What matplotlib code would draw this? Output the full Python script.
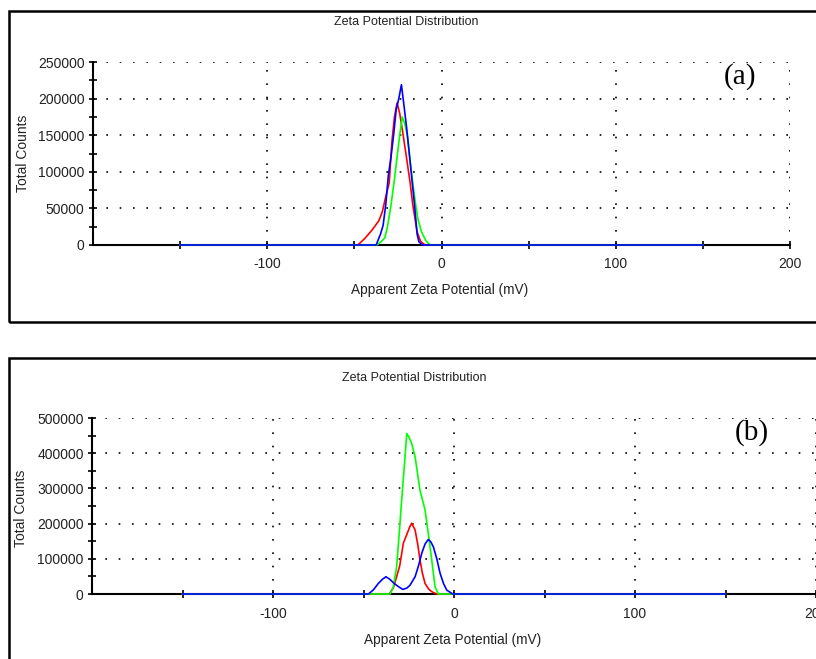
#%% Dependencies
import matplotlib.pyplot as plt
from matplotlib.patches import Rectangle
from matplotlib.ticker import MultipleLocator, FixedLocator
import numpy as np

#%% Data: apparent zeta potential (mV) vs total counts, three runs per sample
W, H = 816, 659

# sample (a)
a_red_mv = [-150, -48, -44, -40, -36, -34, -32, -30, -28.5, -27, -25.5, -24, -22, -20, -18, -16.5, -14, -12, -9.5, 150]
a_red_ct = [0, 0, 9000, 20000, 33000, 45000, 66000, 85000, 140000, 175000, 194000, 180000, 150000, 118000, 85000, 55000, 18000, 5000, 0, 0]

a_green_mv = [-150, -37, -34, -32.5, -31, -29, -27, -25.5, -24, -22.5, -21, -19.5, -18, -16.5, -15, -13.5, -11.5, -9, -6.5, 150]
a_green_ct = [0, 0, 6000, 10000, 25000, 54000, 90000, 120000, 150000, 175000, 165000, 148000, 115000, 85000, 58000, 35000, 18000, 6000, 0, 0]

a_blue_mv = [-150, -37.5, -35, -33.5, -32, -30.5, -29, -27.5, -26, -24.5, -23, -21.5, -20, -18.5, -17, -15.5, -14, -13, -11, 150]
a_blue_ct = [0, 0, 15000, 27000, 55000, 95000, 120000, 150000, 185000, 200000, 219000, 190000, 160000, 125000, 90000, 55000, 15000, 4500, 0, 0]

# sample (b)
b_red_mv = [-150, -35.7, -33.5, -31.7, -30, -28, -26, -24.5, -23.4, -21.5, -20, -18.8, -17.5, -16, -14, -12.3, -9.6, 150]
b_red_ct = [0, 0, 18000, 49000, 80000, 144000, 170000, 190000, 201000, 182000, 140000, 97000, 60000, 30000, 14000, 6500, 0, 0]

b_green_mv = [-150, -35.4, -33.5, -31.7, -30.3, -28.9, -27.5, -26.1, -24.8, -23.4, -21.5, -18.8, -16, -14.2, -12.3, -10.5, -8.7, 150]
b_green_ct = [0, 0, 20000, 77600, 170000, 267000, 360000, 456000, 445000, 428000, 390000, 295000, 239000, 172000, 97000, 21000, 0, 0]

b_blue_mv = [-150, -47.3, -44.5, -41.8, -39.5, -37.6, -35.5, -33.5, -31, -28.3, -26, -24.3, -21.5, -19.5, -17.8, -16, -14.2, -12.8, -11.4, -9.5, -7.7, -5.8, -4, -0.7, 150]
b_blue_ct = [0, 0, 12000, 30000, 42000, 49000, 42000, 32000, 22000, 13000, 17000, 25000, 49000, 82000, 116000, 142000, 155000, 148000, 134000, 100000, 59000, 30000, 11000, 0, 0]

panels = [
    dict(label="(a)", rect=(93, 62, 790, 245), ymax=250000, ystep=50000,
         title_xy=(406, 22), xlabel_xy=(440, 290), ylabel_xy=(23, 153), tag_xy=(740, 77),
         frame=(9, 11, 830, 322),
         series=[(a_red_mv, a_red_ct, "#ff0000"), (a_green_mv, a_green_ct, "#00ff00"),
                 (a_blue_mv, a_blue_ct, "#0000ff")]),
    dict(label="(b)", rect=(92, 418, 816, 594), ymax=500000, ystep=100000,
         title_xy=(414, 378), xlabel_xy=(453, 640), ylabel_xy=(21, 508), tag_xy=(752, 433),
         frame=(9, 358, 830, 680),
         series=[(b_red_mv, b_red_ct, "#ff0000"), (b_green_mv, b_green_ct, "#00ff00"),
                 (b_blue_mv, b_blue_ct, "#0000ff")]),
]

#%% Plotting
plt.rcParams["font.family"] = ["Liberation Sans", "DejaVu Sans"]
plt.rcParams["axes.unicode_minus"] = False
fig = plt.figure(figsize=(W / 100, H / 100), dpi=100)
fig.patch.set_facecolor("white")

for p in panels:
    x0, y0, x1, y1 = p["frame"]
    fig.patches.append(Rectangle((x0 / W, 1 - y1 / H), (x1 - x0) / W, (y1 - y0) / H,
                                 transform=fig.transFigure, fill=False,
                                 edgecolor="black", linewidth=1.8))

    l, t, r, b = p["rect"]
    ax = fig.add_axes([l / W, 1 - b / H, (r - l) / W, (b - t) / H])
    for mv, ct, c in p["series"]:
        ax.plot(mv, ct, color=c, linewidth=1.2, zorder=3, clip_on=False)

    ax.set_xlim(-200, 200)
    ax.set_ylim(0, p["ymax"])
    ax.xaxis.set_major_locator(FixedLocator([-100, 0, 100, 200]))
    ax.xaxis.set_minor_locator(FixedLocator([-150, -50, 50, 150]))
    ax.yaxis.set_major_locator(MultipleLocator(p["ystep"]))
    ax.yaxis.set_minor_locator(MultipleLocator(p["ystep"] / 2))
    ax.tick_params(which="both", direction="inout", length=6, width=1.2, color="black",
                   labelsize=10, labelcolor="#222222")
    ax.tick_params(axis="x", pad=6)
    ax.tick_params(axis="y", pad=3)
    ax.yaxis.set_major_formatter(plt.FuncFormatter(lambda v, _: f"{int(v)}"))

    ax.spines["top"].set_visible(False)
    ax.spines["right"].set_visible(False)
    ax.spines["left"].set_linewidth(1.5)
    ax.spines["bottom"].set_linewidth(1.5)
    ax.grid(True, which="major", color="black", linestyle=(0, (1, 7)), linewidth=1.2)
    ax.set_axisbelow(True)

    tx, ty = p["title_xy"]
    fig.text(tx / W, 1 - ty / H, "Zeta Potential Distribution", ha="center", va="center",
             fontsize=9, color="#222222")
    lx, ly = p["xlabel_xy"]
    fig.text(lx / W, 1 - ly / H, "Apparent Zeta Potential (mV)", ha="center", va="center",
             fontsize=9.8, color="#222222")
    vx, vy = p["ylabel_xy"]
    fig.text(vx / W, 1 - vy / H, "Total Counts", ha="center", va="center", rotation=90,
             fontsize=10, color="#222222")
    gx, gy = p["tag_xy"]
    fig.text(gx / W, 1 - gy / H, p["label"], ha="center", va="center", fontsize=21,
             family="Liberation Serif")

fig.savefig("out.png", dpi=100)
